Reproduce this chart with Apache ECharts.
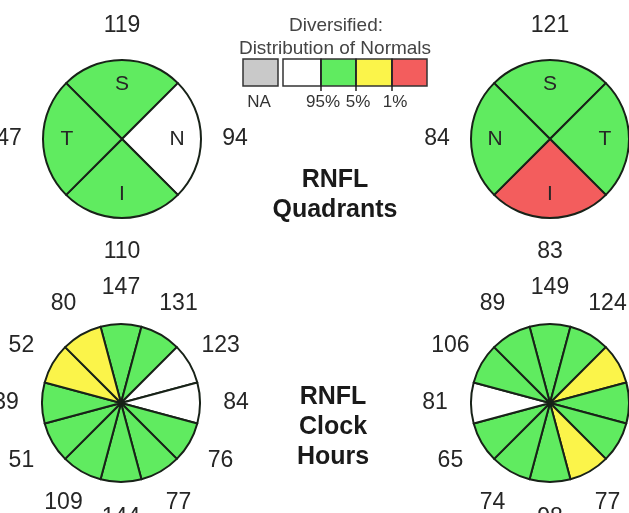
<!DOCTYPE html>
<html><head><meta charset="utf-8">
<script src="https://cdn.jsdelivr.net/npm/echarts@6/dist/echarts.min.js"></script>
<style>html,body{margin:0;padding:0;background:#fff}#c{width:629px;height:513px}</style>
</head><body><div id="c"></div>
<script>
// ---- data ----
const quadNamesOD = ['S', 'N', 'I', 'T'];          // clockwise from top (right eye)
const quadValuesOD = [119, 94, 110, 47];
const quadClassOD = ['G', 'W', 'G', 'G'];

const quadNamesOS = ['S', 'T', 'I', 'N'];          // clockwise from top (left eye)
const quadValuesOS = [121, null, 83, 84];          // temporal value is outside the picture
const quadClassOS = ['G', 'G', 'R', 'G'];

const clockHours = ['12', '1', '2', '3', '4', '5', '6', '7', '8', '9', '10', '11'];
const clockValuesOD = [147, 131, 123, 84, 76, 77, 144, 109, 51, 39, 52, 80];
const clockClassOD = ['G', 'G', 'W', 'W', 'G', 'G', 'G', 'G', 'G', 'G', 'Y', 'Y'];
const clockValuesOS = [149, 124, null, null, null, 77, 98, 74, 65, 81, 106, 89]; // 2-4 o'clock outside the picture
const clockClassOS = ['G', 'G', 'Y', 'G', 'G', 'Y', 'G', 'G', 'G', 'W', 'G', 'G'];

const legendClasses = ['NA', 'W', 'G', 'Y', 'R'];
const legendLabels = ['NA', '95%', '5%', '1%'];

// ---- styles ----
const colorMap = { NA: '#c9c9c9', W: '#ffffff', G: '#60eb60', Y: '#fbf44a', R: '#f35d5d' };
const FONT = "'Liberation Sans', Arial, sans-serif";
const BORDER = '#182218';
const R = 79;

function fillPie(center, startAngle, names, classes) {
  return {
    type: 'pie', center, radius: [0, R], startAngle, clockwise: true, silent: true,
    animation: false, emphasis: { disabled: true },
    label: { show: false }, labelLine: { show: false },
    itemStyle: { borderColor: BORDER, borderWidth: 2 },
    data: names.map((n, i) => ({ name: String(n), value: 1, itemStyle: { color: colorMap[classes[i]] } }))
  };
}
function labelRing(center, startAngle, names, texts, radius, fontSize) {
  return {
    type: 'pie', center, radius, startAngle, clockwise: true, silent: true,
    animation: false, emphasis: { disabled: true },
    itemStyle: { color: 'rgba(0,0,0,0)', borderWidth: 0 },
    labelLine: { show: false },
    label: {
      show: true, position: 'inside', rotate: 0,
      formatter: p => texts[p.dataIndex] == null ? '' : String(texts[p.dataIndex]),
      fontSize, fontFamily: FONT, color: '#262626'
    },
    data: names.map(n => ({ name: String(n), value: 1 }))
  };
}

const cQL = [122, 139], cQR = [550, 139], cCL = [121, 403], cCR = [550, 403];

const series = [
  fillPie(cQL, 135, quadNamesOD, quadClassOD),
  labelRing(cQL, 135, quadNamesOD, quadNamesOD, [30, 74], 21),
  labelRing(cQL, 135, quadNamesOD, quadValuesOD, [98, 122], 23),

  fillPie(cQR, 135, quadNamesOS, quadClassOS),
  labelRing(cQR, 135, quadNamesOS, quadNamesOS, [30, 74], 21),
  labelRing(cQR, 135, quadNamesOS, quadValuesOS, [98, 122], 23),

  fillPie(cCL, 105, clockHours, clockClassOD),
  labelRing(cCL, 105, clockHours, clockValuesOD, [100, 124], 23),

  fillPie(cCR, 105, clockHours, clockClassOS),
  labelRing(cCR, 105, clockHours, clockValuesOS, [100, 124], 23)
];

// legend (graphic)
const boxX = [243, 283, 321, 356, 392];
const boxW = [35, 38, 35, 36, 35];
const legendLabelX = [259, 323, 358, 395];
const graphics = [];
legendClasses.forEach((c, i) => {
  graphics.push({ type: 'rect', shape: { x: boxX[i], y: 59, width: boxW[i], height: 27 },
    style: { fill: colorMap[c], stroke: '#333', lineWidth: 1.5 } });
});
[321, 356, 392].forEach(x => graphics.push({ type: 'line', shape: { x1: x, y1: 59, x2: x, y2: 91 }, style: { stroke: '#222', lineWidth: 1.5 } }));
legendLabels.forEach((t, i) => {
  graphics.push({ type: 'text', x: legendLabelX[i], y: 102,
    style: { text: t, fontSize: 17, fontFamily: FONT, fill: '#333', align: 'center', verticalAlign: 'middle' } });
});
graphics.push({ type: 'text', x: 336, y: 26, style: { text: 'Diversified:', fontSize: 19, fontFamily: FONT, fill: '#444', align: 'center', verticalAlign: 'middle' } });
graphics.push({ type: 'text', x: 335, y: 49, style: { text: 'Distribution of Normals', fontSize: 19, fontFamily: FONT, fill: '#444', align: 'center', verticalAlign: 'middle' } });
graphics.push({ type: 'text', x: 335, y: 195, style: { text: 'RNFL\nQuadrants', fontSize: 25, fontWeight: 'bold', lineHeight: 30, fontFamily: FONT, fill: '#1a1a1a', align: 'center', verticalAlign: 'middle' } });
graphics.push({ type: 'text', x: 333, y: 427, style: { text: 'RNFL\nClock\nHours', fontSize: 25, fontWeight: 'bold', lineHeight: 30, fontFamily: FONT, fill: '#1a1a1a', align: 'center', verticalAlign: 'middle' } });

const chart = echarts.init(document.getElementById('c'), null, { renderer: 'canvas' });
chart.setOption({ animation: false, backgroundColor: '#ffffff', series, graphic: graphics });
</script></body></html>
